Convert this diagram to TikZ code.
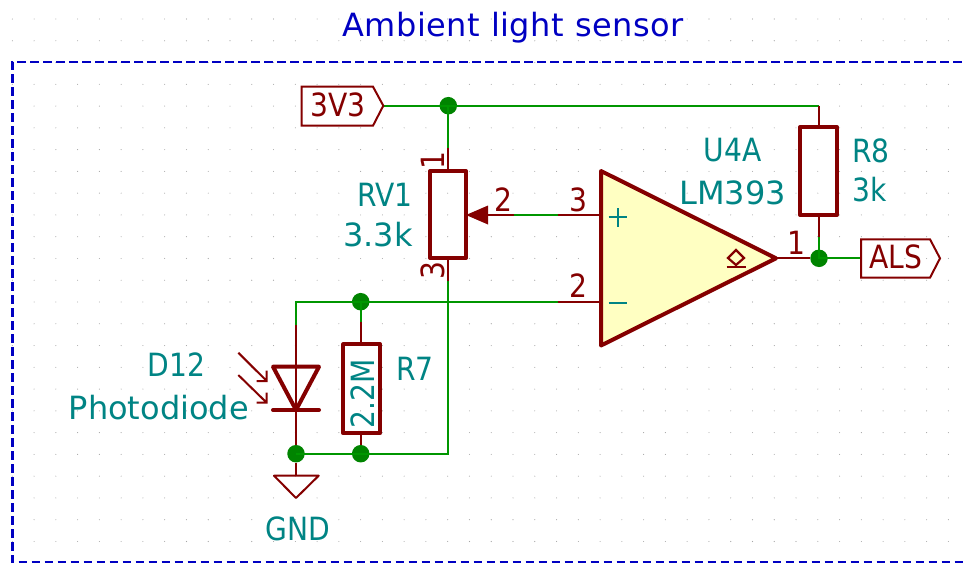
\documentclass[tikz,border=0pt]{standalone}
\usepackage{fontspec}
\setmainfont{DejaVu Sans}
\newfontfamily\titlefont{DejaVu Sans}[LetterSpace=1.8]
\newfontfamily\capsfont{DejaVu Sans}[FakeStretch=0.88]
\usepackage{tikz}
\definecolor{sym}{RGB}{132,0,0}
\definecolor{net}{RGB}{0,150,0}
\definecolor{dotgreen}{RGB}{0,132,0}
\definecolor{ref}{RGB}{0,132,132}
\definecolor{frame}{RGB}{0,0,194}
\definecolor{opfill}{RGB}{255,255,194}
\tikzset{
  wire/.style={net,line width=2pt},
  pin/.style={sym,line width=2pt},
  body/.style={sym,line width=4pt,line join=round,line cap=round},
  flag/.style={sym,line width=2pt},
  junc/.style={fill=dotgreen,circle,inner sep=0pt,minimum size=17.5pt},
  txt/.style={inner sep=0pt,font=\fontsize{32}{32}\capsfont,anchor=base},
  val/.style={txt,text=ref},
  num/.style={txt,text=sym},
}
\begin{document}
\begin{tikzpicture}[x=1pt,y=-1pt]
\useasboundingbox (0,0) rectangle (963,562);
\foreach \i in {0,...,43}
  \foreach \j in {0,...,24}
    \fill[black!35] (12.3+21.77*\i,19+21.77*\j) circle [radius=0.55pt];
\draw[frame,line width=2.4pt,dash pattern=on 8.7pt off 4.3pt] (975,62) -- (12.3,62) -- (12.3,562) -- (975,562);
\node[txt,text=frame,font=\fontsize{32}{32}\titlefont] (title) at (513,36) {Ambient light sensor};

\coordinate (p3v3) at (383.3,105.7);
\coordinate (r8top) at (819,105.7);
\coordinate (r8a) at (819,127);
\coordinate (r8b) at (819,215);
\coordinate (r8c) at (819,237);
\coordinate (rv1a) at (448.3,148);
\coordinate (rv1b) at (448.3,171);
\coordinate (rv1c) at (448.3,258);
\coordinate (rv1d) at (448.3,281);
\coordinate (turn) at (448.3,453.7);
\coordinate (wipa) at (488,215);
\coordinate (wipb) at (514,215);
\coordinate (inpa) at (558,215);
\coordinate (inpb) at (601,215);
\coordinate (inma) at (558,301.7);
\coordinate (inmb) at (601,301.7);
\coordinate (tl) at (296,301.7);
\coordinate (d12a) at (296,325);
\coordinate (d12b) at (296,410);
\coordinate (r7a) at (360.7,321.7);
\coordinate (r7b) at (360.7,344.3);
\coordinate (r7c) at (360.7,433.3);
\coordinate (outa) at (776,258.3);
\coordinate (pals) at (861,258.3);
\coordinate (gnda) at (296,475.7);

\node[junc] (j3v3) at (448.3,105.7) {};
\node[junc] (jout) at (819,258.3) {};
\node[junc] (jr7) at (360.7,301.7) {};
\node[junc] (jd12) at (296,453.7) {};
\node[junc] (jgnd) at (360.7,453.7) {};

\draw[wire] (p3v3) -- (j3v3.center) -- (r8top);
\draw[wire] (j3v3.center) -- (rv1a);
\draw[wire] (r8c) -- (jout.center) -- (pals);
\draw[wire] (wipb) -- (inpa);
\draw[wire] (d12a) -- (tl) -- (inma);
\draw[wire] (jr7.center) -- (r7a);
\draw[wire] (rv1d) -- (turn) -- (jd12.center);

\draw[pin] (r8top) -- (r8a);
\draw[pin] (r8b) -- (r8c);
\draw[pin] (rv1a) -- (rv1b);
\draw[pin] (rv1c) -- (rv1d);
\draw[pin] (wipa) -- (wipb);
\draw[pin] (inpa) -- (inpb);
\draw[pin] (inma) -- (inmb);
\draw[pin] (outa) -- (jout);
\draw[pin] (d12a) -- (jd12);
\draw[pin] (r7a) -- (r7b);
\draw[pin] (r7c) -- (jgnd);
\draw[pin] (jd12) -- (gnda);

\draw[flag] (301.7,86.7) -- (373,86.7) -- (p3v3) -- (373,125.7) -- (301.7,125.7) -- cycle;
\node[num] (lab3v3) at (338,116.7) {3V3};
\draw[flag] (pals |- 0,239.3) -- (930,239.3) -- (940,258.3) -- (930,277.7) -- (pals |- 0,277.7) -- cycle;
\node[num] (labals) at (896,268) {ALS};

\draw[body] (430,171) rectangle (466,258);
\fill[sym] (466,215) -- (488,205.5) -- (488,224.5) -- cycle;
\draw[body] (800,127) rectangle (837,215);
\draw[body] (343.3,344.3) rectangle (380,433.3);
\draw[body,fill=opfill] (601,171) -- (776,258.3) -- (601,345.5) -- cycle;
\draw[ref,line width=2.2pt] (618,208) -- (618,226.5) (608.7,217.3) -- (627.3,217.3);
\draw[ref,line width=2.2pt] (608.7,303) -- (627.3,303);
\draw[sym,line width=2.2pt] (728,258) -- (736,250) -- (744,258) -- (736,265) -- cycle;
\draw[sym,line width=2.2pt] (726.5,266.7) -- (745.5,266.7);

\draw[body] (273,366.7) -- (319,366.7) -- (d12b) -- cycle;
\draw[body] (273,410) -- (319,410);
\draw[sym,line width=2pt] (238.3,352.7) -- (266.7,381) (256.5,381) -- (266.7,381) -- (266.7,370.5);
\draw[sym,line width=2pt] (238.3,375) -- (266.7,402.7) (256.5,402.7) -- (266.7,402.7) -- (266.7,392.5);
\draw[flag,line join=round] (274,475.7) -- (318.7,475.7) -- (296,498) -- cycle;

\node[val,anchor=base east] (rv1) at (413,206) {RV1};
\node[val,anchor=base east,font=\fontsize{32}{32}\selectfont] (rv1v) at (413,246) {3.3k};
\node[val,anchor=base west] (r8) at (852,162) {R8};
\node[val,anchor=base west] (r8v) at (852,201.7) {3k};
\node[val] (u4a) at (732.5,161) {U4A};
\node[val,font=\fontsize{32}{32}\selectfont] (lm393) at (732.5,204) {LM393};
\node[val,anchor=base west] (r7) at (396,380) {R7};
\node[val,rotate=90] (r7v) at (374,393.5) {2.2M};
\node[val] (d12) at (176.5,376) {D12};
\node[val,anchor=base east,font=\fontsize{32}{32}\selectfont] (pd) at (249,419) {Photodiode};
\node[val] (gnd) at (298,540.7) {GND};

\node[num] (n2w) at (503,211) {2};
\node[num] (n3) at (578.5,211) {3};
\node[num] (n2m) at (578.5,297.5) {2};
\node[num] (n1) at (796,254) {1};
\node[num,rotate=90] (nr1) at (444,161) {1};
\node[num,rotate=90] (nr3) at (444,271) {3};
\end{tikzpicture}
\end{document}
